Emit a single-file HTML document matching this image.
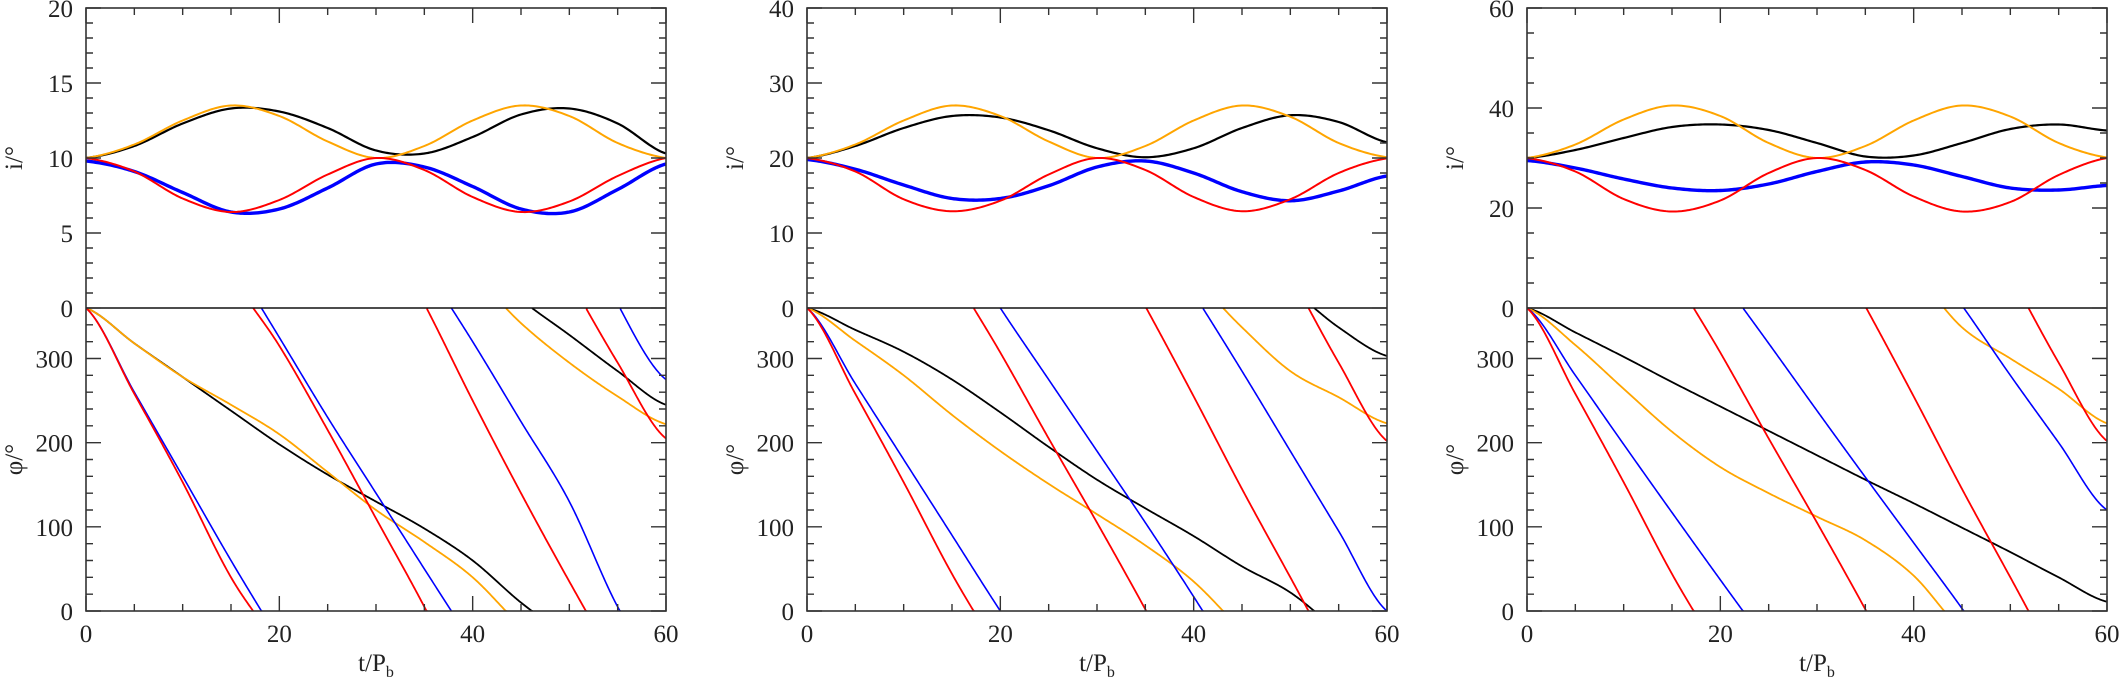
<!DOCTYPE html>
<html><head><meta charset="utf-8"><style>
html,body{margin:0;padding:0;background:#fff;}
svg{display:block;}
text{font-family:"Liberation Serif",serif;font-size:25px;fill:#222;}
</style></head><body>
<svg id="c" width="2121" height="678" viewBox="0 0 2121 678"></svg>
<script>
const tVals=[0,5,10,15,20,25,30,35,40,45,50,55,60];
// panel 1 (i0 = 10)
const p1IncOrange=[10,10.9,12.5,13.5,12.8,11.1,10.0,10.8,12.5,13.5,12.8,11.0,10.0];
const p1IncBlack=[10,10.8,12.3,13.3,13.1,12.0,10.5,10.3,11.4,12.9,13.3,12.3,10.3];
const p1IncRed=[10,9.1,7.3,6.4,7.2,8.9,10.0,9.2,7.4,6.4,7.1,8.8,10.0];
const p1IncBlue=[9.8,9.1,7.7,6.4,6.6,8.0,9.6,9.4,8.1,6.6,6.4,7.9,9.6];
const p1PhiRed=[0,-102,-207,-320,-405,-505,-610,-715,-830,-940,-1045,-1145,-1235];
const p1PhiBlue=[0,-100,-200,-300,-395,-490,-580,-670,-760,-855,-950,-1075,-1165];
const p1PhiBlack=[0,-42,-82,-122,-162,-198,-230,-262,-300,-350,-392,-435,-475];
const p1PhiOrange=[0,-42,-82,-115,-150,-195,-240,-278,-320,-378,-425,-465,-498];
// panel 2 (i0 = 20)
const p2IncOrange=[20,21.8,25.0,27.0,25.6,22.2,20.0,21.6,25.0,27.0,25.5,22.0,20.1];
const p2IncBlack=[20,21.6,24.0,25.6,25.4,23.7,21.3,20.1,21.3,24.0,25.7,24.8,22.1];
const p2IncRed=[20,18.2,14.5,12.9,14.3,17.8,20.0,18.4,14.8,12.9,14.5,18.0,19.95];
const p2IncBlue=[19.8,18.5,16.4,14.6,14.6,16.3,18.8,19.6,18.0,15.5,14.3,15.6,17.6];
const p2PhiRed=[0,-102,-207,-316,-413,-515,-615,-718,-825,-935,-1040,-1145,-1238];
const p2PhiBlue=[0,-90,-180,-270,-360,-445,-530,-615,-703,-795,-890,-985,-1080];
const p2PhiBlack=[0,-26,-52,-85,-124,-165,-204,-238,-271,-307,-338,-383,-417];
const p2PhiOrange=[0,-39,-80,-127,-170,-209,-245,-282,-325,-383,-435,-466,-497];
// panel 3 (i0 = 30)
const p3IncOrange=[30,32.7,37.7,40.5,38.4,33.0,30.0,32.4,37.5,40.5,38.3,33.0,30.1];
const p3IncBlack=[30,31.6,34.0,36.2,36.7,35.6,33.0,30.3,30.5,33.0,35.8,36.7,35.5];
const p3IncRed=[30,27.3,21.8,19.3,21.5,27.0,30.0,27.6,22.3,19.3,21.2,26.6,30.0];
const p3IncBlue=[29.5,28.0,25.8,24.0,23.5,24.8,27.3,29.2,28.6,26.3,24.0,23.6,24.5];
const p3PhiRed=[0,-102,-207,-316,-413,-515,-615,-718,-825,-935,-1040,-1145,-1238];
const p3PhiBlue=[0,-80,-162,-243,-323,-402,-482,-561,-639,-717,-800,-880,-960];
const p3PhiBlack=[0,-29,-58,-88,-117,-146,-175,-204,-232,-261,-290,-320,-349];
const p3PhiOrange=[0,-44,-96,-147,-189,-220,-248,-276,-318,-383,-420,-456,-497];

const incMax=[20,40,60], incMinor=[1,2,5], incMajor=[5,10,20];
const phiTicksMajor=[0,100,200,300];
const xTickLabels=[0,20,40,60];
const panels=[
 {inc:[p1IncBlack,p1IncOrange,p1IncBlue,p1IncRed],phi:[p1PhiBlack,p1PhiOrange,p1PhiBlue,p1PhiRed]},
 {inc:[p2IncBlack,p2IncOrange,p2IncBlue,p2IncRed],phi:[p2PhiBlack,p2PhiOrange,p2PhiBlue,p2PhiRed]},
 {inc:[p3IncBlack,p3IncOrange,p3IncBlue,p3IncRed],phi:[p3PhiBlack,p3PhiOrange,p3PhiBlue,p3PhiRed]}
];
const seriesNames=['black','orange','blue','red'];
const seriesColors=['#000','#ffa500','#0000ff','#ff0000'];
const incWidths=[2.2,2,3.4,2];
const phiWidths=[1.8,1.8,1.6,1.8];

const NS='http://www.w3.org/2000/svg';
const svg=document.getElementById('c');
const lefts=[86,807,1527], W=580, T=8, M=308, B=611;
function mk(tag,attrs,parent){const e=document.createElementNS(NS,tag);for(const k in attrs)e.setAttribute(k,attrs[k]);(parent||svg).appendChild(e);return e;}
function interp(arr,t){
  const h=tVals[1]-tVals[0];let i=Math.min(Math.floor(t/h),arr.length-2);const u=t/h-i;
  const p0=arr[Math.max(i-1,0)],p1=arr[i],p2=arr[i+1],p3=arr[Math.min(i+2,arr.length-1)];
  return 0.5*((2*p1)+(-p0+p2)*u+(2*p0-5*p1+4*p2-p3)*u*u+(-p0+3*p1-3*p2+p3)*u*u*u);
}
panels.forEach((p,pi)=>{
  const L=lefts[pi];
  const g=mk('g',{});
  
  
  const xs=t=>L+t/60*W;
  const yi=v=>M-(v/incMax[pi])*(M-T);
  const yp=v=>B-(v/360)*(B-M);
  const cid='clip'+pi;
  const cp=mk('clipPath',{id:cid},g);mk('rect',{x:L,y:T,width:W,height:B-T},cp);
  p.inc.forEach((arr,si)=>{
    let d='';for(let t=0;t<=60.0001;t+=0.2){d+=(t===0?'M':'L')+xs(t).toFixed(2)+','+yi(interp(arr,t)).toFixed(2);}
    const path=mk('path',{d:d,fill:'none',stroke:seriesColors[si],'stroke-width':incWidths[si],'clip-path':'url(#'+cid+')'},g);
    
    
  });
  p.phi.forEach((arr,si)=>{
    let d='',prev=null;
    for(let t=0;t<=60.0001;t+=0.1){
      let v=interp(arr,t);let w=((v%360)+360)%360;if(t===0)w=360;
      if(prev!==null&&Math.abs(w-prev)>180){
        const edge=w>prev?0:360;d+='L'+xs(t).toFixed(2)+','+yp(edge).toFixed(2);
        d+='M'+xs(t).toFixed(2)+','+yp(360-edge).toFixed(2);
      }
      d+=(prev===null?'M':'L')+xs(t).toFixed(2)+','+yp(w).toFixed(2);prev=w;
    }
    const path=mk('path',{d:d,fill:'none',stroke:seriesColors[si],'stroke-width':phiWidths[si],'clip-path':'url(#'+cid+')'},g);
    
    
  });
  const fr=mk('rect',{x:L,y:T,width:W,height:B-T,fill:'none',stroke:'#333','stroke-width':1.6},g);
  
  
  mk('line',{x1:L,x2:L+W,y1:M,y2:M,stroke:'#111','stroke-width':1.6},g);
  let td='';
  for(let t=0;t<=60;t+=5){const len=t%20===0?15:7;const x=xs(t);
    td+=`M${x},${B}v${-len}M${x},${T}v${len}`;}
  for(let v=0;v<=incMax[pi];v+=incMinor[pi]){const len=v%incMajor[pi]===0?15:7;const y=yi(v);
    td+=`M${L},${y}h${len}M${L+W},${y}h${-len}`;}
  for(let v=0;v<=360;v+=20){const len=v%100===0?15:7;const y=yp(v);
    td+=`M${L},${y}h${len}M${L+W},${y}h${-len}`;}
  const tk=mk('path',{d:td,stroke:'#333','stroke-width':1.4,fill:'none'},g);
  
  
  for(let v=0;v<=incMax[pi];v+=incMajor[pi]){
    const tx=mk('text',{x:L-13,y:yi(v)+9,'text-anchor':'end'},g);tx.textContent=v;
    
    
  }
  phiTicksMajor.forEach(v=>{ if(v===0)return;
    const tx=mk('text',{x:L-13,y:yp(v)+9,'text-anchor':'end'},g);tx.textContent=v;
    
    
  });
  const z=mk('text',{x:L-13,y:B+9,'text-anchor':'end'},g);z.textContent='0';
  
  
  xTickLabels.forEach(v=>{
    const tx=mk('text',{x:xs(v),y:B+31,'text-anchor':'middle'},g);tx.textContent=v;
    
    
  });
  const xl=mk('text',{x:L+W/2,y:B+60,'text-anchor':'middle'},g);
  xl.innerHTML='t/P<tspan dy="6" font-size="16">b</tspan>';
  
  
  const yl1=mk('text',{x:0,y:0,'text-anchor':'middle',transform:`translate(${L-64},${(T+M)/2}) rotate(-90)`},g);
  yl1.textContent='i/°';
  
  
  const yl2=mk('text',{x:0,y:0,'text-anchor':'middle',transform:`translate(${L-64},${(M+B)/2}) rotate(-90)`},g);
  yl2.textContent='φ/°';
  
  
});
</script>
</body></html>
